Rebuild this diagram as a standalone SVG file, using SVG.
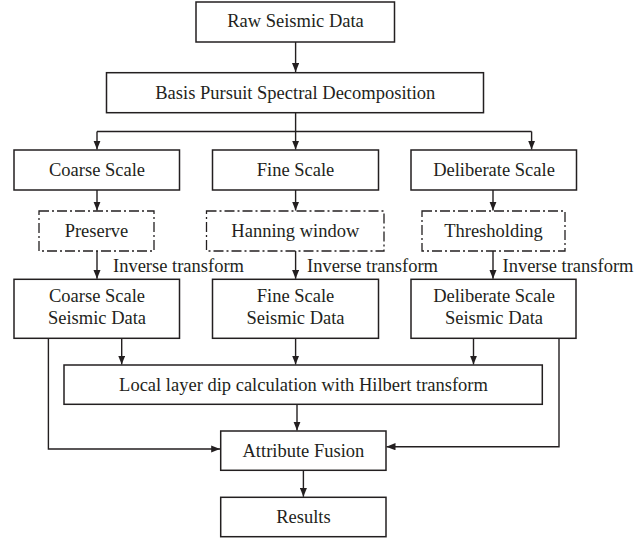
<svg xmlns="http://www.w3.org/2000/svg" width="634" height="542" viewBox="0 0 634 542">
<style>
.box{fill:#fff;stroke:#231f20;stroke-width:1.5}
.dash{fill:#fff;stroke:#231f20;stroke-width:1.3;stroke-dasharray:10 3 2 3}
.ln{fill:none;stroke:#231f20;stroke-width:1.4}
text{font-family:"Liberation Serif","Times New Roman",serif;font-size:18.5px;fill:#231f20;text-anchor:middle}
.lbl{text-anchor:start}
</style>
<defs>
<marker id="ah" viewBox="0 0 10 8" refX="10" refY="4" markerWidth="9" markerHeight="7.5" markerUnits="userSpaceOnUse" orient="auto">
<path d="M0,0 L10,4 L0,8 Z" fill="#231f20"/>
</marker>
</defs>
<rect width="634" height="542" fill="#fff"/>
<g id="connectors">
<path class="ln" d="M295.6,42 V72" marker-end="url(#ah)"/>
<path class="ln" d="M295.6,112.7 V131.5 M97,131.5 H531.6"/>
<path class="ln" d="M97,131.5 V149.5" marker-end="url(#ah)"/>
<path class="ln" d="M295.6,131.5 V149.5" marker-end="url(#ah)"/>
<path class="ln" d="M531.6,131.5 V149.5" marker-end="url(#ah)"/>
<path class="ln" d="M97,190 V210.5" marker-end="url(#ah)"/>
<path class="ln" d="M295.6,190 V210.5" marker-end="url(#ah)"/>
<path class="ln" d="M493,190 V210.5" marker-end="url(#ah)"/>
<path class="ln" d="M97,251 V278.8" marker-end="url(#ah)"/>
<path class="ln" d="M295.6,251 V278.8" marker-end="url(#ah)"/>
<path class="ln" d="M493,251 V278.8" marker-end="url(#ah)"/>
<path class="ln" d="M121.7,338 V364.5" marker-end="url(#ah)"/>
<path class="ln" d="M295.6,338 V364.5" marker-end="url(#ah)"/>
<path class="ln" d="M473.5,338 V364.5" marker-end="url(#ah)"/>
<path class="ln" d="M297,404.5 V430.5" marker-end="url(#ah)"/>
<path class="ln" d="M48.4,338 V449 H220.2" marker-end="url(#ah)"/>
<path class="ln" d="M559,338 V446.7 H386.5" marker-end="url(#ah)"/>
<path class="ln" d="M303.4,470.5 V496.8" marker-end="url(#ah)"/>
<text class="lbl" x="113" y="272">Inverse transform</text>
<text class="lbl" x="307" y="272">Inverse transform</text>
<text class="lbl" x="502.5" y="272">Inverse transform</text>
</g>
<g id="raw"><rect class="box" x="196" y="2" width="198.5" height="40"/><text x="295.5" y="27">Raw Seismic Data</text></g>
<g id="bpsd"><rect class="box" x="106.5" y="72.7" width="377" height="40"/><text x="295.3" y="98.5">Basis Pursuit Spectral Decomposition</text></g>
<g id="coarse"><rect class="box" x="14" y="150" width="165.5" height="40"/><text x="97" y="175.5">Coarse Scale</text></g>
<g id="fine"><rect class="box" x="212.5" y="150" width="166" height="40"/><text x="295.5" y="175.5">Fine Scale</text></g>
<g id="deliberate"><rect class="box" x="411" y="150" width="165.5" height="40"/><text x="494" y="175.5">Deliberate Scale</text></g>
<g id="preserve"><rect class="dash" x="39" y="211" width="115" height="40"/><text x="96.5" y="237">Preserve</text></g>
<g id="hanning"><rect class="dash" x="206.5" y="211" width="177.5" height="40"/><text x="295.3" y="237">Hanning window</text></g>
<g id="threshold"><rect class="dash" x="422" y="211" width="143" height="40"/><text x="493.5" y="237">Thresholding</text></g>
<g id="coarse-data"><rect class="box" x="14" y="279.3" width="165.5" height="59"/><text x="97" y="301.5">Coarse Scale</text><text x="97" y="323.5">Seismic Data</text></g>
<g id="fine-data"><rect class="box" x="212.5" y="279.3" width="166" height="59"/><text x="295.5" y="301.5">Fine Scale</text><text x="295.5" y="323.5">Seismic Data</text></g>
<g id="deliberate-data"><rect class="box" x="411" y="279.3" width="165" height="59"/><text x="494" y="301.5">Deliberate Scale</text><text x="494" y="323.5">Seismic Data</text></g>
<g id="local"><rect class="box" x="64" y="365" width="478.3" height="39.3"/><text x="303.5" y="390.5">Local layer dip calculation with Hilbert transform</text></g>
<g id="fusion"><rect class="box" x="220.7" y="431" width="165.3" height="39.3"/><text x="303.4" y="456.5">Attribute Fusion</text></g>
<g id="results"><rect class="box" x="220.7" y="497.3" width="165.3" height="39.4"/><text x="303.4" y="523">Results</text></g>
</svg>
